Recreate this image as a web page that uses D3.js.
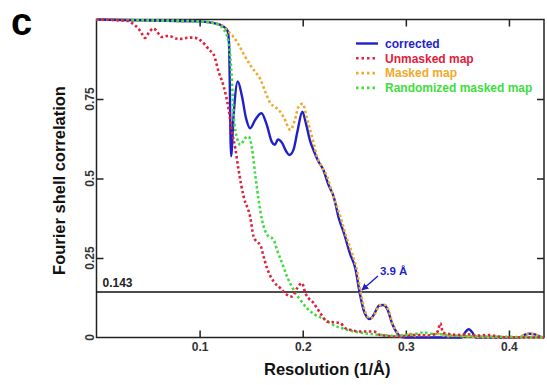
<!DOCTYPE html>
<html>
<head>
<meta charset="utf-8">
<script src="https://cdn.jsdelivr.net/npm/d3@7"></script>
<style>
  body { margin: 0; background: #fff; }
  svg text { font-family: "Liberation Sans", Arial, sans-serif; font-weight: bold; }
  .axis path { display: none; }
  .axis line { stroke: #222; stroke-width: 1.5; }
  .axis text { font-size: 12px; fill: #333; }
</style>
</head>
<body>
<svg id="chart"></svg>
<script>
// FSC curves, [resolution (1/A), correlation]
const correctedPts = [[0,1.0],[0.05,0.997],[0.1,0.994],[0.115,0.988],[0.122,0.98],[0.127,0.965],[0.1285,0.93],
  [0.1305,0.57],[0.133,0.70],[0.137,0.805],[0.141,0.76],[0.145,0.69],[0.149,0.658],[0.154,0.685],[0.160,0.705],
  [0.165,0.67],[0.170,0.615],[0.173,0.606],[0.176,0.623],[0.180,0.612],[0.184,0.585],[0.187,0.574],[0.191,0.59],
  [0.195,0.65],[0.1996,0.710],[0.203,0.675],[0.207,0.62],[0.211,0.585],[0.215,0.555],[0.220,0.527],[0.225,0.48],
  [0.230,0.443],[0.235,0.375],[0.240,0.328],[0.246,0.262],[0.251,0.218],[0.255,0.145],[0.259,0.087],[0.262,0.065],
  [0.265,0.058],[0.269,0.072],[0.274,0.100],[0.278,0.102],[0.282,0.090],[0.2866,0.045],[0.2915,0.014],[0.295,0.002],
  [0.30,0.0],[0.354,0.0],[0.358,0.018],[0.361,0.026],[0.364,0.018],[0.368,0.0],[0.41,0.0],[0.415,0.008],
  [0.42,0.012],[0.425,0.01],[0.43,0.003],[0.434,0.0]];

const unmaskedPts = [[0,1.0],[0.02,0.998],[0.031,0.995],[0.036,0.985],[0.041,0.97],[0.044,0.955],[0.047,0.942],
  [0.051,0.96],[0.0554,0.972],[0.059,0.96],[0.0635,0.945],[0.068,0.948],[0.073,0.946],[0.077,0.94],[0.0813,0.939],
  [0.087,0.942],[0.0926,0.943],[0.0975,0.941],[0.1007,0.935],[0.1055,0.92],[0.109,0.905],[0.1136,0.89],
  [0.1184,0.836],[0.1233,0.79],[0.128,0.721],[0.1314,0.647],[0.1346,0.595],[0.1378,0.527],[0.1427,0.443],
  [0.149,0.38],[0.1524,0.317],[0.1559,0.3],[0.1589,0.291],[0.162,0.255],[0.1654,0.218],[0.1718,0.176],
  [0.1783,0.155],[0.1848,0.134],[0.1896,0.129],[0.1945,0.155],[0.1993,0.171],[0.2025,0.14],[0.2106,0.108],
  [0.2171,0.077],[0.2236,0.05],[0.230,0.048],[0.2365,0.045],[0.241,0.03],[0.246,0.024],[0.2558,0.019],
  [0.2688,0.019],[0.275,0.008],[0.28,0.006],[0.29,0.003],[0.30,0.005],[0.31,0.008],[0.32,0.006],[0.328,0.01],
  [0.331,0.02],[0.3335,0.045],[0.336,0.015],[0.34,0.012],[0.35,0.008],[0.36,0.01],[0.37,0.006],[0.38,0.008],
  [0.39,0.003],[0.40,0.0],[0.434,0.0]];

const maskedPts = [[0,1.0],[0.05,0.997],[0.1,0.994],[0.115,0.988],[0.122,0.98],[0.128,0.962],[0.133,0.945],
  [0.138,0.92],[0.143,0.89],[0.149,0.857],[0.154,0.835],[0.159,0.812],[0.164,0.77],[0.1686,0.737],[0.173,0.725],
  [0.1766,0.716],[0.182,0.69],[0.188,0.653],[0.192,0.68],[0.196,0.726],[0.200,0.735],[0.204,0.69],[0.2106,0.611],
  [0.2139,0.569],[0.218,0.54],[0.2236,0.506],[0.230,0.44],[0.2365,0.38],[0.242,0.32],[0.2478,0.265],[0.252,0.22],
  [0.256,0.145],[0.26,0.087],[0.263,0.065],[0.266,0.06],[0.270,0.075],[0.275,0.102],[0.279,0.103],[0.283,0.088],
  [0.287,0.045],[0.292,0.015],[0.296,0.004],[0.30,0.006],[0.305,0.012],[0.31,0.004],[0.315,0.01],[0.32,0.005],
  [0.33,0.012],[0.335,0.008],[0.34,0.004],[0.35,0.006],[0.36,0.003],[0.37,0.002],[0.38,0.0],[0.41,0.0],
  [0.415,0.008],[0.42,0.012],[0.425,0.01],[0.43,0.003],[0.434,0.0]];

const randomizedPts = [[0,1.0],[0.05,0.997],[0.1,0.994],[0.115,0.988],[0.12,0.98],[0.125,0.96],[0.128,0.93],
  [0.1314,0.805],[0.133,0.70],[0.1363,0.627],[0.1395,0.606],[0.1443,0.627],[0.1475,0.632],[0.1508,0.595],
  [0.154,0.51],[0.1572,0.433],[0.1605,0.37],[0.1654,0.323],[0.1718,0.307],[0.175,0.276],[0.18,0.234],
  [0.1848,0.192],[0.1912,0.15],[0.1977,0.118],[0.2042,0.092],[0.2122,0.071],[0.222,0.056],[0.2268,0.045],
  [0.243,0.024],[0.259,0.014],[0.2753,0.008],[0.29,0.005],[0.30,0.008],[0.3076,0.01],[0.317,0.016],[0.325,0.012],
  [0.335,0.01],[0.345,0.006],[0.36,0.004],[0.38,0.003],[0.40,0.002],[0.434,0.0]];

const seriesNames = ['corrected', 'Unmasked map', 'Masked map', 'Randomized masked map'];
const seriesColors = ['#1f1fcc', '#e0203c', '#f0aa2a', '#3fdd3f'];
const xTicks = [0.1, 0.2, 0.3, 0.4];
const yTicks = [0, 0.25, 0.5, 0.75];
const threshold = 0.143;
const cutoffRes = 0.2555; // 3.9 A

const W = 547, H = 385;
const margin = {top: 19.5, right: 3, bottom: 47.5, left: 96.5};

const svg = d3.select('#chart').attr('width', W).attr('height', H);

const x = d3.scaleLinear().domain([0, 0.434]).range([margin.left, W - margin.right]);
const y = d3.scaleLinear().domain([0, 1]).range([H - margin.bottom, margin.top]);

// panel letter
svg.append('text').attr('x', 11).attr('y', 35)
  .style('font-size', '38px').attr('fill', '#000').text('c');

// axes with inward ticks
svg.append('g').attr('class', 'axis')
  .attr('transform', `translate(0,${y(0)})`)
  .call(d3.axisBottom(x).tickValues(xTicks).tickSize(-7).tickPadding(5).tickFormat(d3.format('.1f')));
svg.append('g').attr('class', 'axis')
  .attr('transform', `translate(0,${y(1)})`)
  .call(d3.axisTop(x).tickValues(xTicks).tickSize(-7).tickFormat(''));
svg.append('g').attr('class', 'axis')
  .attr('transform', `translate(${x(0)},0)`)
  .call(d3.axisLeft(y).tickValues(yTicks.slice(1)).tickSize(-7).tickFormat(''));
svg.append('g').attr('class', 'axis')
  .attr('transform', `translate(${x(0.434)},0)`)
  .call(d3.axisRight(y).tickValues(yTicks.slice(1)).tickSize(-7).tickFormat(''));

// rotated y tick labels
svg.append('g').selectAll('text').data(yTicks).join('text')
  .attr('transform', d => `translate(${x(0) - 2.5},${y(d)}) rotate(-90)`)
  .attr('text-anchor', 'middle')
  .style('font-size', '12px').attr('fill', '#333')
  .text(d => d === 0 ? '0' : String(d));

// frame
svg.append('rect')
  .attr('x', x(0)).attr('y', y(1))
  .attr('width', x(0.434) - x(0)).attr('height', y(0) - y(1))
  .attr('fill', 'none').attr('stroke', '#222').attr('stroke-width', 1.5);

// threshold line
svg.append('line')
  .attr('x1', x(0)).attr('x2', x(0.434))
  .attr('y1', y(threshold)).attr('y2', y(threshold))
  .attr('stroke', '#111').attr('stroke-width', 1.6);
svg.append('text').attr('x', x(0) + 6).attr('y', y(threshold) - 5)
  .style('font-size', '12px').attr('fill', '#222').text('0.143');

// curves
const line = d3.line().x(d => x(d[0])).y(d => y(d[1])).curve(d3.curveMonotoneX);
const curves = [
  {pts: correctedPts, i: 0, dash: null},
  {pts: maskedPts, i: 2, dash: '2.5,2.5'},
  {pts: randomizedPts, i: 3, dash: '2.5,2.5'},
  {pts: unmaskedPts, i: 1, dash: '2.5,2.5'}
];
svg.append('g').selectAll('path').data(curves).join('path')
  .attr('d', d => line(d.pts))
  .attr('fill', 'none')
  .attr('stroke', d => seriesColors[d.i])
  .attr('stroke-width', d => d.dash ? 2.6 : 2.4)
  .attr('stroke-dasharray', d => d.dash);

// legend
const legend = svg.append('g').attr('transform', 'translate(356,43.5)');
const rows = legend.selectAll('g').data(seriesNames).join('g')
  .attr('transform', (d, i) => `translate(0,${i * 14.8})`);
rows.append('line')
  .attr('x1', 0).attr('x2', 22).attr('y1', 0).attr('y2', 0)
  .attr('stroke', (d, i) => seriesColors[i])
  .attr('stroke-width', (d, i) => i === 0 ? 2.4 : 2.6)
  .attr('stroke-dasharray', (d, i) => i === 0 ? null : '2.5,3');
rows.append('text')
  .attr('x', 29).attr('y', 4.3)
  .style('font-size', '12px')
  .attr('fill', (d, i) => seriesColors[i])
  .text(d => d);

// resolution annotation
svg.append('defs').append('marker')
  .attr('id', 'arr').attr('viewBox', '0 0 10 10')
  .attr('refX', 9).attr('refY', 5)
  .attr('markerWidth', 5).attr('markerHeight', 5)
  .attr('orient', 'auto')
  .append('path').attr('d', 'M0,0 L10,5 L0,10 z').attr('fill', seriesColors[0]);
svg.append('line')
  .attr('x1', x(cutoffRes) + 18).attr('y1', y(threshold) - 16)
  .attr('x2', x(cutoffRes) + 2).attr('y2', y(threshold) - 2)
  .attr('stroke', seriesColors[0]).attr('stroke-width', 1.4)
  .attr('marker-end', 'url(#arr)');
svg.append('text').attr('x', x(cutoffRes) + 20).attr('y', y(threshold) - 17)
  .style('font-size', '11.5px').attr('fill', seriesColors[0]).text('3.9 Å');

// axis titles
svg.append('text')
  .attr('x', (x(0) + x(0.434)) / 2 + 7).attr('y', 375)
  .attr('text-anchor', 'middle')
  .style('font-size', '16.5px').attr('fill', '#111')
  .text('Resolution (1/Å)');
svg.append('text')
  .attr('transform', `translate(65,${(y(0) + y(1)) / 2 + 2}) rotate(-90)`)
  .attr('text-anchor', 'middle')
  .style('font-size', '16.5px').attr('fill', '#111')
  .text('Fourier shell correlation');
</script>
</body>
</html>
